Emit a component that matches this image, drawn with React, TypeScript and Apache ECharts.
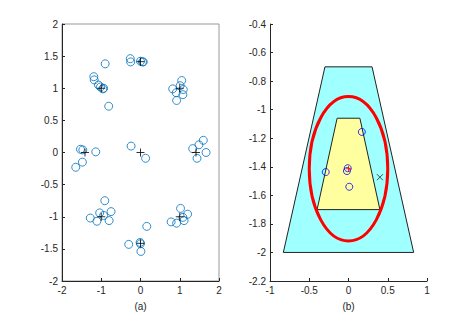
import React, { useEffect, useRef } from "react";
import * as echarts from "echarts";

// Panel (a): reference points (+) and sample points (o)
const centersA: [number, number][] = [
  [0, 0], [1.414, 0], [-1.414, 0], [0, 1.414], [0, -1.414],
  [1, 1], [-1, 1], [1, -1], [-1, -1],
];
const samplesA: [number, number][] = [
  // top-left
  [-0.9, 1.38], [-1.19, 1.18], [-1.18, 1.13], [-1.07, 1.05], [-1.02, 1.02], [-0.94, 1.0], [-0.96, 0.99], [-0.81, 0.72],
  // top-middle
  [-0.26, 1.46], [-0.25, 1.41], [0.0, 1.42], [0.05, 1.41], [0.07, 1.41],
  // top-right
  [0.82, 0.99], [0.91, 0.93], [0.92, 0.81], [1.05, 1.12], [1.01, 1.04], [1.09, 0.98], [1.08, 0.9],
  // middle-left
  [-1.53, 0.05], [-1.47, 0.04], [-1.14, 0.01], [-1.65, -0.23], [-1.48, -0.15],
  // center
  [-0.24, 0.1], [0.13, -0.09],
  // middle-right
  [1.33, 0.06], [1.49, 0.12], [1.6, 0.19], [1.67, 0.0], [1.44, -0.09],
  // bottom-left
  [-0.91, -0.75], [-0.75, -0.92], [-1.04, -0.94], [-1.28, -1.02], [-1.11, -1.07], [-0.8, -1.06], [-0.94, -0.98],
  // bottom-middle
  [-0.3, -1.43], [-0.01, -1.4], [0.01, -1.54], [0.16, -1.15], [0.0, -1.42],
  // bottom-right
  [1.02, -0.87], [1.2, -0.96], [0.78, -1.08], [0.92, -1.1], [1.11, -1.06], [1.08, -1.01],
];

// Panel (b)
const outerTrap: [number, number][] = [[-0.3, -0.7], [0.3, -0.7], [0.83, -2], [-0.83, -2]];
const innerTrap: [number, number][] = [[-0.145, -1.06], [0.145, -1.06], [0.4, -1.7], [-0.4, -1.7]];
const ellipseB = { cx: 0, cy: -1.414, rx: 0.5, ry: 0.506 };
const samplesB: [number, number][] = [[0.17, -1.156], [-0.29, -1.437], [-0.01, -1.41], [-0.02, -1.43], [0.01, -1.54]];
const centerB: [number, number][] = [[0, -1.414]];
const crossB: [number, number][] = [[0.4, -1.473]];

const xTicksA = { min: -2, max: 2, interval: 1 };
const yTicksA = { min: -2, max: 2, interval: 0.5 };
const xTicksB = { min: -1, max: 1, interval: 0.5 };
const yTicksB = { min: -2.2, max: -0.4, interval: 0.2 };

const PLUS = "path://M5,0L5,10M0,5L10,5";
const CROSS = "path://M0,0L10,10M10,0L0,10";
const FONT = "Liberation Sans, Arial, sans-serif";
const TXT = "#262626";

function axisCommon(extra: any) {
  return {
    type: "value",
    splitLine: { show: false },
    axisLine: { show: true, onZero: false, lineStyle: { color: TXT, width: 1 } },
    axisTick: { show: true, inside: true, length: 3, lineStyle: { color: TXT } },
    axisLabel: { color: TXT, fontSize: 10, fontFamily: FONT, margin: 4 },
    ...extra,
  };
}

export default function App() {
  const ref = useRef<HTMLDivElement>(null);
  useEffect(() => {
    document.body.style.margin = "0";
    const chart = echarts.init(ref.current!, undefined, { renderer: "svg" });
    const polygonSeries = (pts: [number, number][], fill: string, z: number) => ({
      type: "custom",
      xAxisIndex: 1,
      yAxisIndex: 1,
      z,
      data: [0],
      renderItem: (params: any, api: any) => ({
        type: "polygon",
        shape: { points: pts.map((p) => api.coord(p)) },
        style: { fill, stroke: "#222", lineWidth: 1 },
      }),
    });
    chart.setOption({
      animation: false,
      backgroundColor: "#fff",
      grid: [
        { left: 62, top: 24, width: 157, height: 258, show: true, borderColor: "#999", borderWidth: 1, backgroundColor: "#fff" },
        { left: 270, top: 24, width: 157, height: 258 },
      ],
      xAxis: [
        axisCommon({ gridIndex: 0, ...xTicksA, name: "(a)", nameLocation: "middle", nameGap: 20, nameTextStyle: { color: TXT, fontSize: 10, fontFamily: FONT } }),
        axisCommon({ gridIndex: 1, ...xTicksB, name: "(b)", nameLocation: "middle", nameGap: 20, nameTextStyle: { color: TXT, fontSize: 10, fontFamily: FONT } }),
      ],
      yAxis: [
        axisCommon({ gridIndex: 0, ...yTicksA }),
        axisCommon({ gridIndex: 1, ...yTicksB }),
      ],
      series: [
        {
          type: "scatter", xAxisIndex: 0, yAxisIndex: 0, data: samplesA,
          symbol: "circle", symbolSize: 8, z: 2,
          itemStyle: { color: "rgba(0,0,0,0)", borderColor: "#0072BD", borderWidth: 1 },
        },
        {
          type: "scatter", xAxisIndex: 0, yAxisIndex: 0, data: centersA,
          symbol: PLUS, symbolSize: 8, z: 3,
          itemStyle: { color: "rgba(0,0,0,0)", borderColor: "#000", borderWidth: 1 },
        },
        polygonSeries(outerTrap, "#A0FFFF", 1),
        polygonSeries(innerTrap, "#FFFFA0", 2),
        {
          type: "custom", xAxisIndex: 1, yAxisIndex: 1, z: 3, data: [0],
          renderItem: (params: any, api: any) => {
            const c = api.coord([ellipseB.cx, ellipseB.cy]);
            const s = api.size([ellipseB.rx, ellipseB.ry]);
            return {
              type: "ellipse",
              shape: { cx: c[0], cy: c[1], rx: s[0], ry: s[1] },
              style: { fill: "none", stroke: "#FF0000", lineWidth: 3 },
            };
          },
        },
        {
          type: "scatter", xAxisIndex: 1, yAxisIndex: 1, data: samplesB,
          symbol: "circle", symbolSize: 7, z: 4,
          itemStyle: { color: "rgba(0,0,0,0)", borderColor: "#0000FF", borderWidth: 1 },
        },
        {
          type: "scatter", xAxisIndex: 1, yAxisIndex: 1, data: centerB,
          symbol: PLUS, symbolSize: 6, z: 5,
          itemStyle: { color: "rgba(0,0,0,0)", borderColor: "#FF0000", borderWidth: 1 },
        },
        {
          type: "scatter", xAxisIndex: 1, yAxisIndex: 1, data: crossB,
          symbol: CROSS, symbolSize: 6, z: 5,
          itemStyle: { color: "rgba(0,0,0,0)", borderColor: "#222", borderWidth: 1 },
        },
      ],
    });
    return () => chart.dispose();
  }, []);
  return <div ref={ref} style={{ width: 472, height: 316 }} />;
}
